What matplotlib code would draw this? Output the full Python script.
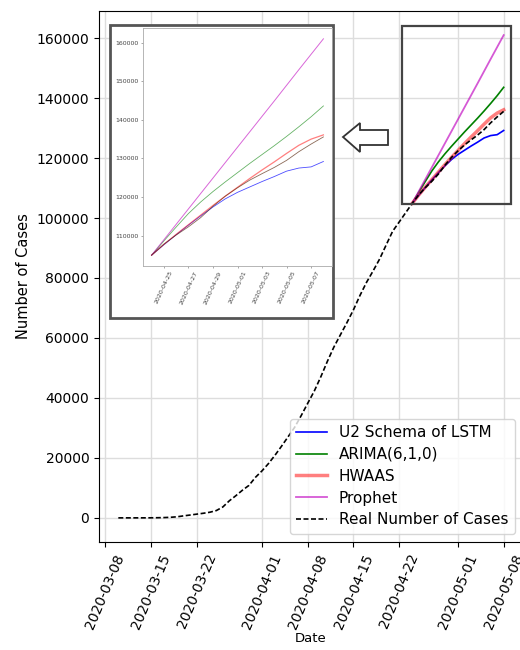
import numpy as np
import pandas as pd
import matplotlib
matplotlib.use("Agg")
import matplotlib.pyplot as plt
import matplotlib.dates as mdates
from matplotlib.patches import Rectangle, Polygon

# ---------------------------------------------------------------------------
# Datos
# ---------------------------------------------------------------------------
real_start = "2020-03-10"
real_cases = [0, 1, 1, 5, 6, 18, 47, 98, 191, 359, 670, 947, 1236, 1529, 1872,
              2433, 3629, 5698, 7402, 9217, 10827, 13531, 15679, 18135, 20921,
              23934, 27069, 30217, 34109, 38226, 42282, 47029, 52167, 56956,
              61049, 65111, 69392, 74193, 78546, 82329, 86306, 90980, 95591,
              98674, 101790, 104912, 107773, 110130, 112261, 114653, 117589,
              120204, 122392, 124375, 126045, 127659, 129491, 131744, 133721,
              135569]

fc_start = "2020-04-24"
lstm    = [104912, 107600, 110200, 112700, 115100, 117400, 119500, 121200,
           122600, 124000, 125300, 126700, 127500, 127800, 129200]
arima   = [104912, 108600, 112200, 115700, 118700, 121400, 123900, 126300,
           128700, 131000, 133300, 135700, 138200, 140800, 143600]
hwaas   = [104912, 107700, 110300, 112800, 115300, 117800, 120200, 122500,
           124800, 127000, 129100, 131300, 133400, 135000, 136100]
prophet = [104912, 108900, 112900, 116900, 120900, 124900, 128900, 132900,
           136900, 140900, 144900, 148950, 153000, 157000, 161000]

main_ticks  = ["2020-03-08", "2020-03-15", "2020-03-22", "2020-04-01",
               "2020-04-08", "2020-04-15", "2020-04-22", "2020-05-01",
               "2020-05-08"]
inset_ticks = ["2020-04-25", "2020-04-27", "2020-04-29", "2020-05-01",
               "2020-05-03", "2020-05-05", "2020-05-07"]
inset_yticks = [110000, 120000, 130000, 140000, 150000, 160000]

real_dates = pd.date_range(real_start, periods=len(real_cases), freq="D")
fc_dates = pd.date_range(fc_start, periods=len(lstm), freq="D")
real_fc = real_cases[-len(lstm):]

# ---------------------------------------------------------------------------
# Figura principal
# ---------------------------------------------------------------------------
W, H = 520, 650
fig = plt.figure(figsize=(5.2, 6.5), dpi=100)
ax = fig.add_axes([99 / W, 1 - 542 / H, 424 / W, 531 / H])

ax.plot(fc_dates, lstm, color="blue", lw=1.2, label="U2 Schema of LSTM")
ax.plot(fc_dates, arima, color="green", lw=1.2, label="ARIMA(6,1,0)")
ax.plot(fc_dates, hwaas, color="red", lw=2.5, alpha=0.5, label="HWAAS")
ax.plot(fc_dates, prophet, color="m", lw=1.3, alpha=0.65, label="Prophet")
ax.plot(real_dates, real_cases, color="black", ls="--", lw=1.2,
        dashes=(3, 1.5), label="Real Number of Cases", zorder=5)

ax.set_xlim(pd.Timestamp("2020-03-07") + pd.Timedelta(hours=1),
            pd.Timestamp("2020-05-10") + pd.Timedelta(hours=23))
ax.set_ylim(-8050, 169050)
ax.set_xticks(pd.to_datetime(main_ticks))
ax.xaxis.set_major_formatter(mdates.DateFormatter("%Y-%m-%d"))
ax.ticklabel_format(axis="y", style="plain", useOffset=False)
plt.setp(ax.get_xticklabels(), rotation=67, fontsize=10)
plt.setp(ax.get_yticklabels(), fontsize=10)
ax.grid(True, color="#dddddd", lw=1)
ax.set_xlabel("Date", fontsize=9.5, labelpad=1)
ax.set_ylabel("Number of Cases", fontsize=10.5)
ax.legend(loc="lower right", fontsize=11, handlelength=2.0,
          borderaxespad=0.55, labelspacing=0.45)

# recuadro de zoom sobre los pronosticos
x0 = mdates.date2num(fc_dates[0]) - 1.5
x1 = mdates.date2num(fc_dates[-1]) + 1.1
y0 = min(real_fc) - 100
y1 = max(prophet) + 3000
ax.add_patch(Rectangle((x0, y0), x1 - x0, y1 - y0, fill=False,
                       edgecolor="#444444", lw=1.6, zorder=6))

# flecha hueca
flecha_px = [(343, 137), (360, 123), (360, 130), (388, 130),
             (388, 145), (360, 145), (360, 152)]
fig.add_artist(Polygon([(x / W, 1 - y / H) for x, y in flecha_px],
                       closed=True, facecolor="white", edgecolor="#333333",
                       lw=1.3, transform=fig.transFigure, zorder=3))

# ---------------------------------------------------------------------------
# Inset
# ---------------------------------------------------------------------------
fig.add_artist(Rectangle((110 / W, 1 - 318 / H), 223 / W, 293 / H,
                         facecolor="white", edgecolor="#555555", lw=2,
                         transform=fig.transFigure, zorder=1))

axin = fig.add_axes([143 / W, 1 - 266 / H, 189 / W, 238 / H])
axin.set_zorder(2)
axin.plot(fc_dates, lstm, color="blue", lw=0.6, alpha=0.7)
axin.plot(fc_dates, arima, color="green", lw=0.6, alpha=0.6)
axin.plot(fc_dates, hwaas, color="red", lw=0.9, alpha=0.5)
axin.plot(fc_dates, prophet, color="m", lw=0.7, alpha=0.6)
axin.plot(fc_dates, real_fc, color="#5a2a10", lw=0.6, alpha=0.7)
axin.set_xticks(pd.to_datetime(inset_ticks))
axin.xaxis.set_major_formatter(mdates.DateFormatter("%Y-%m-%d"))
axin.set_yticks(inset_yticks)
axin.ticklabel_format(axis="y", style="plain", useOffset=False)
axin.tick_params(labelsize=4.5, length=1.5, width=0.4, colors="#666666",
                 labelcolor="#444444", pad=1.5)
plt.setp(axin.get_xticklabels(), rotation=65)
for s in axin.spines.values():
    s.set_color("#aaaaaa")
    s.set_linewidth(0.6)

fig.savefig("out.png", dpi=100)
